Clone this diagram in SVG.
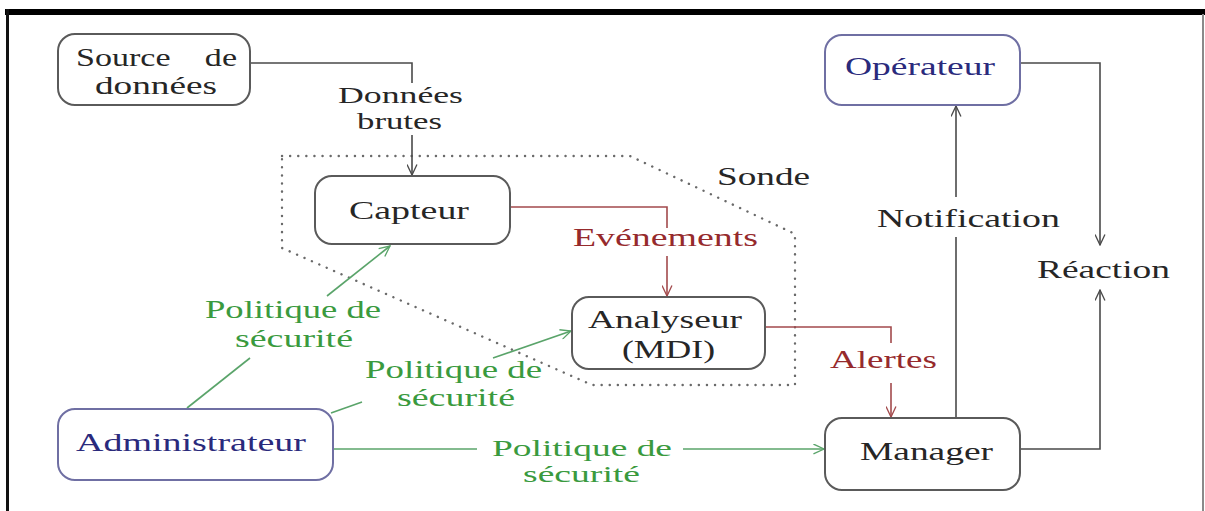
<svg xmlns="http://www.w3.org/2000/svg" width="1205" height="511" viewBox="0 0 1205 511">
  <style>
    .box { fill: #ffffff; stroke: #5a5a5a; stroke-width: 2; }
    .box-blue { fill: #ffffff; stroke: #6f6fa3; stroke-width: 2; }
    .t { font-family: "Liberation Serif", "Times New Roman", serif; font-size: 25px; text-anchor: middle; }
    .tight { font-size: 22.5px; }
    .k { fill: #262626; }
    .b { fill: #2a2a7c; }
    .g { fill: #3a9a3e; }
    .r { fill: #962a2c; }
    .ln { fill: none; stroke-width: 1.6; }
    .ln-k { stroke: #4a4a4a; }
    .ln-r { stroke: #a24a4c; }
    .ln-g { stroke: #5aa46a; }
    .sonde { fill: none; stroke: #6a6a6a; stroke-width: 2.4; stroke-linecap: round; stroke-dasharray: 0.1 8; }
  </style>
  <defs>
    <marker id="ah-k" viewBox="0 0 10 10" refX="9.6" refY="5" markerWidth="13" markerHeight="11" markerUnits="userSpaceOnUse" orient="auto">
      <path d="M0,0.5 L9.6,5 L0,9.5" fill="none" stroke="#4a4a4a" stroke-width="1.2"/>
    </marker>
    <marker id="ah-r" viewBox="0 0 10 10" refX="9.6" refY="5" markerWidth="13" markerHeight="11" markerUnits="userSpaceOnUse" orient="auto">
      <path d="M0,0.5 L9.6,5 L0,9.5" fill="none" stroke="#a24a4c" stroke-width="1.2"/>
    </marker>
    <marker id="ah-g" viewBox="0 0 10 10" refX="9.6" refY="5" markerWidth="13" markerHeight="11" markerUnits="userSpaceOnUse" orient="auto">
      <path d="M0,0.5 L9.6,5 L0,9.5" fill="none" stroke="#5aa46a" stroke-width="1.2"/>
    </marker>
  </defs>

  <rect width="1205" height="511" fill="#ffffff"/>

  <!-- frame -->
  <g id="frame">
    <rect x="5" y="9" width="1200" height="6" fill="#000000"/>
    <rect x="6" y="9" width="3" height="502" fill="#111111"/>
    <line x1="1203" y1="14" x2="1203" y2="511" stroke="#8a8a8a" stroke-width="2"/>
  </g>

  <!-- probe boundary -->
  <g id="sonde">
    <polygon class="sonde" points="282,156 630,156 795,234 795,385 592,385 282,248"/>
    <text class="t k" x="763.5" y="185" textLength="93" lengthAdjust="spacingAndGlyphs">Sonde</text>
  </g>

  <!-- connectors -->
  <g id="connectors">
    <!-- raw data -->
    <path class="ln ln-k" d="M250,63 H412 V83"/>
    <path class="ln ln-k" d="M412,135 V175" marker-end="url(#ah-k)"/>
    <text class="t tight k" x="400.5" y="103" textLength="125" lengthAdjust="spacingAndGlyphs">Données</text>
    <text class="t tight k" x="399.5" y="129" textLength="85" lengthAdjust="spacingAndGlyphs">brutes</text>

    <!-- events -->
    <path class="ln ln-r" d="M510,207 H667 V228"/>
    <path class="ln ln-r" d="M667,256 V296" marker-end="url(#ah-r)"/>
    <text class="t r" x="665.5" y="246" textLength="185" lengthAdjust="spacingAndGlyphs">Evénements</text>

    <!-- alerts -->
    <path class="ln ln-r" d="M765,327 H891 V343"/>
    <path class="ln ln-r" d="M891,383 V417" marker-end="url(#ah-r)"/>
    <text class="t r" x="883.5" y="368" textLength="107" lengthAdjust="spacingAndGlyphs">Alertes</text>

    <!-- notification -->
    <path class="ln ln-k" d="M956,418 V237"/>
    <path class="ln ln-k" d="M956,197 V106" marker-end="url(#ah-k)"/>
    <text class="t k" x="968.5" y="227" textLength="183" lengthAdjust="spacingAndGlyphs">Notification</text>

    <!-- reaction -->
    <path class="ln ln-k" d="M1020,63 H1100 V245" marker-end="url(#ah-k)"/>
    <path class="ln ln-k" d="M1020,449 H1100 V290" marker-end="url(#ah-k)"/>
    <text class="t k" x="1103.5" y="278" textLength="133" lengthAdjust="spacingAndGlyphs">Réaction</text>

    <!-- security policy to sensor -->
    <path class="ln ln-g" d="M187,408 L250,358"/>
    <path class="ln ln-g" d="M327,296 L390,246" marker-end="url(#ah-g)"/>
    <text class="t g" x="293" y="318" textLength="176" lengthAdjust="spacingAndGlyphs">Politique de</text>
    <text class="t g" x="294" y="347" textLength="118" lengthAdjust="spacingAndGlyphs">sécurité</text>

    <!-- security policy to analyser -->
    <path class="ln ln-g" d="M331,413 L362,402"/>
    <path class="ln ln-g" d="M493,358 L571,331" marker-end="url(#ah-g)"/>
    <text class="t g" x="453.5" y="378" textLength="177" lengthAdjust="spacingAndGlyphs">Politique de</text>
    <text class="t g" x="456" y="406" textLength="118" lengthAdjust="spacingAndGlyphs">sécurité</text>

    <!-- security policy to manager -->
    <path class="ln ln-g" d="M333,449 H477"/>
    <path class="ln ln-g" d="M683,449 H824" marker-end="url(#ah-g)"/>
    <text class="t tight g" x="582" y="456" textLength="180" lengthAdjust="spacingAndGlyphs">Politique de</text>
    <text class="t tight g" x="581.5" y="482" textLength="117" lengthAdjust="spacingAndGlyphs">sécurité</text>
  </g>

  <!-- nodes -->
  <g id="source">
    <rect class="box" x="58" y="34" width="192" height="71" rx="17"/>
    <text class="t k" x="156.5" y="66" word-spacing="19" textLength="161" lengthAdjust="spacingAndGlyphs">Source de</text>
    <text class="t k" x="156" y="94" textLength="122" lengthAdjust="spacingAndGlyphs">données</text>
  </g>

  <g id="capteur">
    <rect class="box" x="315" y="176" width="195" height="68" rx="17"/>
    <text class="t k" x="409" y="219" textLength="120" lengthAdjust="spacingAndGlyphs">Capteur</text>
  </g>

  <g id="analyseur">
    <rect class="box" x="572" y="297" width="193" height="72" rx="17"/>
    <text class="t k" x="665" y="328" textLength="154" lengthAdjust="spacingAndGlyphs">Analyseur</text>
    <text class="t k" x="668.5" y="358" textLength="93" lengthAdjust="spacingAndGlyphs">(MDI)</text>
  </g>

  <g id="operateur">
    <rect class="box-blue" x="825" y="35" width="195" height="70" rx="17"/>
    <text class="t b" x="920" y="75" textLength="150" lengthAdjust="spacingAndGlyphs">Opérateur</text>
  </g>

  <g id="manager">
    <rect class="box" x="825" y="418" width="195" height="72" rx="17"/>
    <text class="t k" x="926.5" y="460" textLength="133" lengthAdjust="spacingAndGlyphs">Manager</text>
  </g>

  <g id="administrateur">
    <rect class="box-blue" x="58" y="409" width="275" height="71" rx="17"/>
    <text class="t b" x="191" y="451" textLength="230" lengthAdjust="spacingAndGlyphs">Administrateur</text>
  </g>
</svg>
